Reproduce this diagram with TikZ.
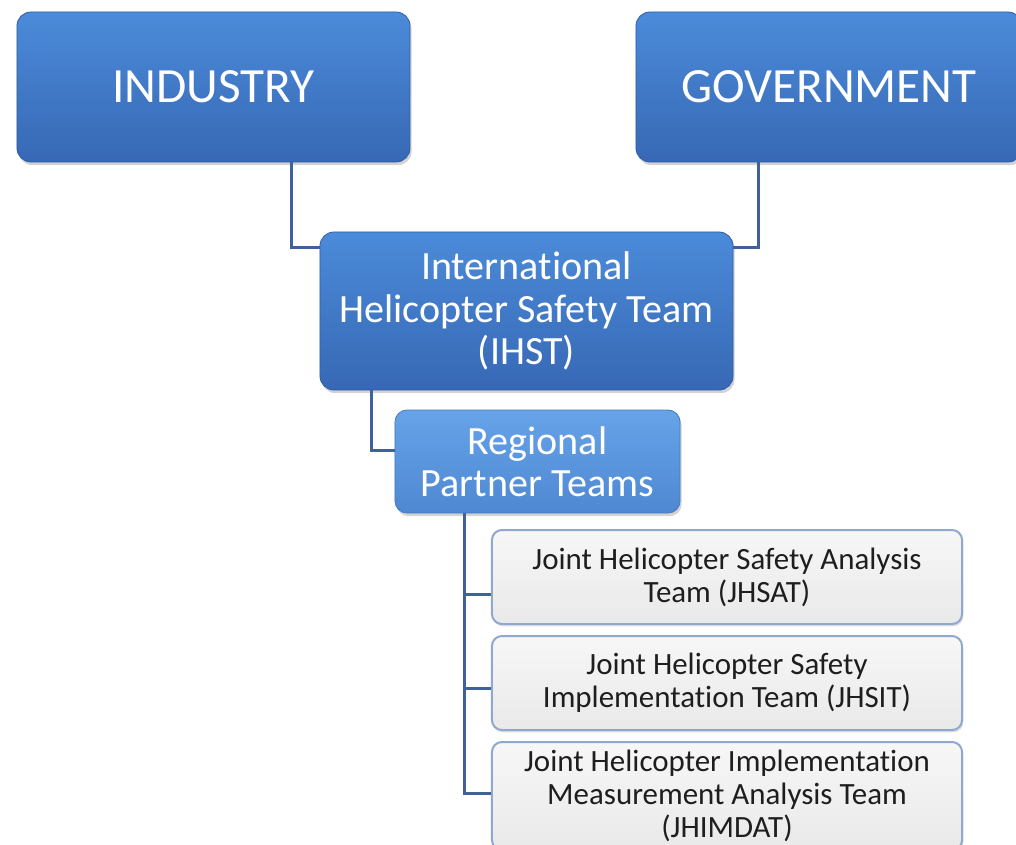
\documentclass[tikz,border=0pt]{standalone}
\usepackage{fontspec}
\setmainfont{Carlito}[Ligatures={NoCommon,NoContextual},Contextuals=NoAlternate]
\usetikzlibrary{shadows}

\definecolor{darktop}{HTML}{4B8BD9}
\definecolor{darkbot}{HTML}{3768B5}
\definecolor{lighttop}{HTML}{66A3E8}
\definecolor{lightbot}{HTML}{4E88D2}
\definecolor{paletop}{HTML}{F7F7F7}
\definecolor{palebot}{HTML}{E9E9E9}
\definecolor{paleline}{HTML}{8FA8D0}
\definecolor{connline}{HTML}{40619A}
\definecolor{boxtext}{HTML}{1E1E1E}

\tikzset{
  bluebox/.style={rectangle, rounded corners=0.35cm, top color=darktop,
    bottom color=darkbot, draw=darkbot!90!black, line width=0.02cm,
    text=white, align=center, inner sep=0pt,
    drop shadow={shadow xshift=0.04cm, shadow yshift=-0.08cm, opacity=0.35}},
  lightbox/.style={bluebox, top color=lighttop, bottom color=lightbot,
    draw=lightbot!90!black, rounded corners=0.3cm},
  palebox/.style={rectangle, rounded corners=0.25cm, top color=paletop,
    bottom color=palebot, draw=paleline, line width=0.05cm,
    text=boxtext, align=center, inner sep=0pt,
    minimum width=11.75cm,
    font=\fontsize{22}{23.5}\selectfont,
    drop shadow={shadow xshift=0.03cm, shadow yshift=-0.06cm, opacity=0.25}},
  conn/.style={draw=connline, line width=0.075cm}
}

\begin{document}
\begin{tikzpicture}[x=0.025cm,y=-0.025cm]
                \useasboundingbox (0,0) rectangle (1016,844);
                \clip (0,0) rectangle (1016,844);
                
                % Top level boxes
                \node [bluebox, minimum width=9.825cm, minimum height=3.75cm,
                  font=\fontsize{35}{40}\selectfont] (industry) at (213.5,87) {INDUSTRY};%
                \node [bluebox, minimum width=9.65cm, minimum height=3.75cm,
                  font=\fontsize{35}{40}\selectfont] (government) at (829,87) {GOVERNMENT};%
                
                % Marking IHST box
                \node [bluebox, minimum width=10.325cm, minimum height=3.95cm,
                  font=\fontsize{28.5}{30}\selectfont] (ihst) at (526.5,311)
                  {International\\Helicopter Safety Team\\(IHST)};%
                
                % Marking regional box
                \node [lightbox, minimum width=7.125cm, minimum height=2.575cm,
                  font=\fontsize{28.5}{30}\selectfont] (rpt) at (537.5,461.5)
                  {Regional\\Partner Teams};%
                
                % Marking joint team boxes
                \node [palebox, minimum height=2.35cm] (jhsat) at (727,577)
                  {Joint Helicopter Safety Analysis\\Team (JHSAT)};%
                \node [palebox, minimum height=2.35cm] (jhsit) at (727,683)
                  {Joint Helicopter Safety\\Implementation Team (JHSIT)};%
                \node [palebox, minimum height=2.7cm] (jhimdat) at (727,796)
                  {Joint Helicopter Implementation\\Measurement Analysis Team\\(JHIMDAT)};%
                
                % Drawing line industry to IHST
                \coordinate (indjoin) at (291,247);%
                \draw [conn] (indjoin |- industry.south) -- (indjoin) -- (indjoin -| ihst.west);%
                
                % Drawing line government to IHST
                \coordinate (govjoin) at (758,247);%
                \draw [conn] (govjoin |- government.south) -- (govjoin) -- (govjoin -| ihst.east);%
                
                % Drawing line IHST to regional
                \coordinate (ihstjoin) at (371,450);%
                \draw [conn] (ihstjoin |- ihst.south) -- (ihstjoin) -- (ihstjoin -| rpt.west);%
                
                % Drawing line regional to joint teams
                \coordinate (rptfoot) at (464,793);%
                \coordinate (branchA) at (464,594);%
                \coordinate (branchB) at (464,688);%
                \draw [conn] (rptfoot |- rpt.south) -- (rptfoot) -- (rptfoot -| jhimdat.west);%
                \draw [conn] (branchA) -- (branchA -| jhsat.west);%
                \draw [conn] (branchB) -- (branchB -| jhsit.west);%
\end{tikzpicture}
\end{document}
